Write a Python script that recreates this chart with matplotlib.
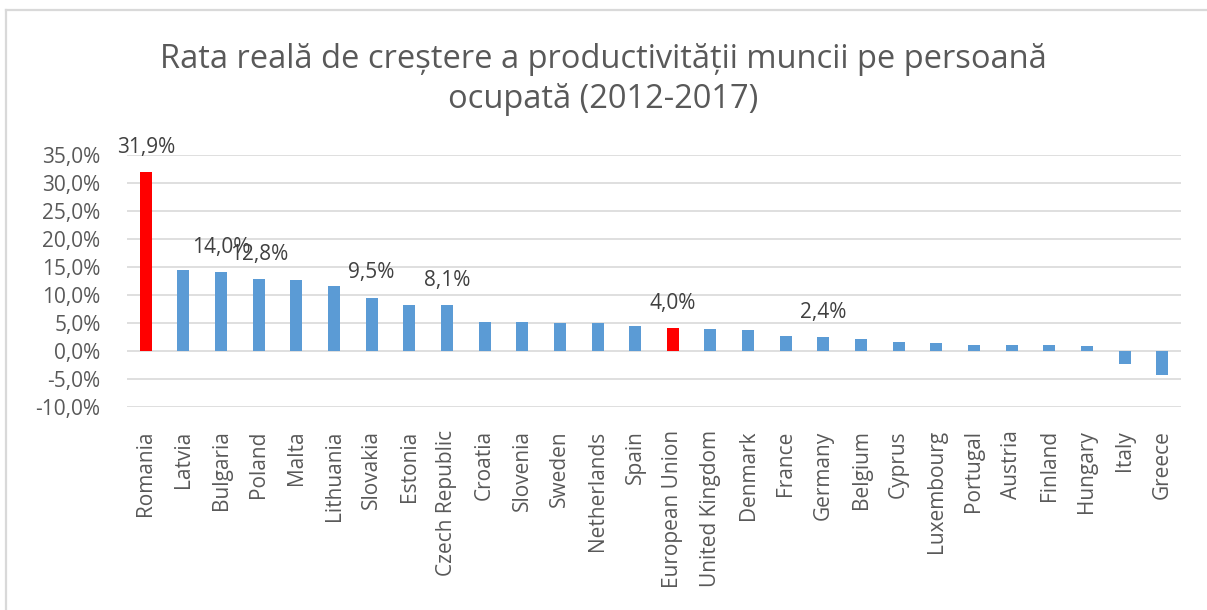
import matplotlib
matplotlib.use("Agg")
import matplotlib.pyplot as plt
from matplotlib.lines import Line2D

categories = ["Romania", "Latvia", "Bulgaria", "Poland", "Malta", "Lithuania", "Slovakia",
              "Estonia", "Czech Republic", "Croatia", "Slovenia", "Sweden", "Netherlands",
              "Spain", "European Union", "United Kingdom", "Denmark", "France", "Germany",
              "Belgium", "Cyprus", "Luxembourg", "Portugal", "Austria", "Finland", "Hungary",
              "Italy", "Greece"]
values = [31.9, 14.5, 14.0, 12.8, 12.6, 11.6, 9.5,
          8.2, 8.1, 5.2, 5.1, 5.0, 5.0,
          4.4, 4.0, 3.8, 3.7, 2.7, 2.4,
          2.1, 1.5, 1.3, 1.1, 1.1, 0.95, 0.8,
          -2.4, -4.4]
highlight = ["Romania", "European Union"]
labeled = ["Romania", "Bulgaria", "Poland", "Slovakia", "Czech Republic", "European Union", "Germany"]
yticks = [-10, -5, 0, 5, 10, 15, 20, 25, 30, 35]
title_lines = ["Rata reală de creștere a productivității muncii pe persoană",
               "ocupată (2012-2017)"]

plt.rcParams['font.family'] = ['Open Sans', 'DejaVu Sans']
TXT = "#595959"

W, H = 1207, 610
fig = plt.figure(figsize=(W / 100, H / 100), dpi=100)
ax = fig.add_axes([127 / W, 1 - 406.7 / H, (1181 - 127) / W, (406.7 - 154.7) / H])

colors = ["#FF0000" if c in highlight else "#5B9BD5" for c in categories]
x = list(range(len(categories)))
ax.bar(x, values, width=0.32, color=colors, zorder=3)

for xi, c, v in zip(x, categories, values):
    if c in labeled:
        ax.annotate(f"{v:.1f}%".replace(".", ","), xy=(xi, v), xytext=(0, 25),
                    textcoords="offset pixels", ha="center", va="center",
                    fontsize=15, color="#404040", zorder=4)

ax.set_xlim(-0.5, len(categories) - 0.5)
ax.set_ylim(-10, 35)
ax.set_yticks(yticks)
ax.set_yticklabels([f"{t:.1f}%".replace(".", ",") for t in yticks], fontsize=15, color=TXT)
ax.set_xticks(x)
ax.set_xticklabels(categories, rotation=90, fontsize=15, color=TXT, va="top")
ax.tick_params(axis="both", length=0)
ax.tick_params(axis="y", pad=19)
ax.tick_params(axis="x", pad=17)
ax.grid(axis="y", color="#d9d9d9", linewidth=1.2, zorder=0)
for s in ax.spines.values():
    s.set_visible(False)

fig.text(0.5, 1 - 60 / H, title_lines[0], ha="center", va="center", fontsize=23.5, color=TXT)
fig.text(0.5, 1 - 100 / H, title_lines[1], ha="center", va="center", fontsize=23.5, color=TXT)

fig.add_artist(Line2D([6 / W, 6 / W], [0, 1 - 10 / H], transform=fig.transFigure,
                      color="#d9d9d9", linewidth=1.6))
fig.add_artist(Line2D([6 / W, 1], [1 - 10 / H, 1 - 10 / H], transform=fig.transFigure,
                      color="#d9d9d9", linewidth=1.6))

fig.savefig("out.png", dpi=100)
